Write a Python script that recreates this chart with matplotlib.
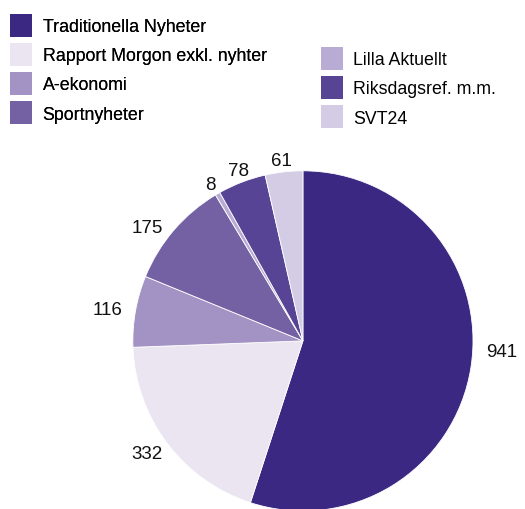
import numpy as np
import matplotlib.pyplot as plt
from matplotlib.patches import Patch

plt.rcParams['font.family'] = ['Liberation Sans', 'DejaVu Sans']

# data
labels = ['Traditionella Nyheter', 'Rapport Morgon exkl. nyhter', 'A-ekonomi',
          'Sportnyheter', 'Lilla Aktuellt', 'Riksdagsref. m.m.', 'SVT24']
values = [941, 332, 116, 175, 8, 78, 61]
colors = ['#3b2883', '#ebe5f1', '#a393c4', '#7461a3', '#b8acd4', '#574494', '#d4cce4']
# small angular nudges of the value labels (degrees)
label_shift = [5.5, 1.5, 0, 2, 0, -1.5, 0]

fig = plt.figure(figsize=(5.25, 5.1), dpi=100)
ax = fig.add_axes([0.253, -0.0039, 0.648, 0.667])
wedges, texts = ax.pie(values, labels=[str(v) for v in values], colors=colors,
                       startangle=90, counterclock=False, labeldistance=1.09,
                       wedgeprops=dict(edgecolor='white', linewidth=0.6),
                       textprops=dict(fontsize=13.5, color='#111111'))
ax.set_xlim(-1, 1)
ax.set_ylim(-1, 1)
ax.set_aspect('equal')

# put labels centred outside the slice, clear of the rim
fig.canvas.draw()
px = ax.transData.transform((1, 0))[0] - ax.transData.transform((0, 0))[0]
for w, t, s in zip(wedges, texts, label_shift):
    ang = np.deg2rad((w.theta1 + w.theta2) / 2 + s)
    bb = t.get_window_extent()
    hw, hh = bb.width / 2 / px, bb.height / 2 / px
    c, sn = np.cos(ang), np.sin(ang)
    t.set_position((1.05 * c + 1.3 * hw * c, 1.05 * sn + 0.3 * hh * sn))
    t.set_ha('center')
    t.set_va('center')
    t.set_clip_on(False)

# legend
h = [Patch(facecolor=c, edgecolor='none') for c in colors]
kw = dict(loc='upper left', frameon=False, fontsize=12.8, handlelength=1.25,
          handleheight=1.6, handletextpad=0.6, labelspacing=0.36, borderaxespad=0)
leg1 = fig.legend(h[:4], labels[:4], bbox_to_anchor=(0.005, 0.985), **kw)
fig.add_artist(leg1)
leg2 = fig.legend(h[4:], labels[4:], bbox_to_anchor=(0.597, 0.92), **kw)

fig.savefig('out.png', dpi=100)
